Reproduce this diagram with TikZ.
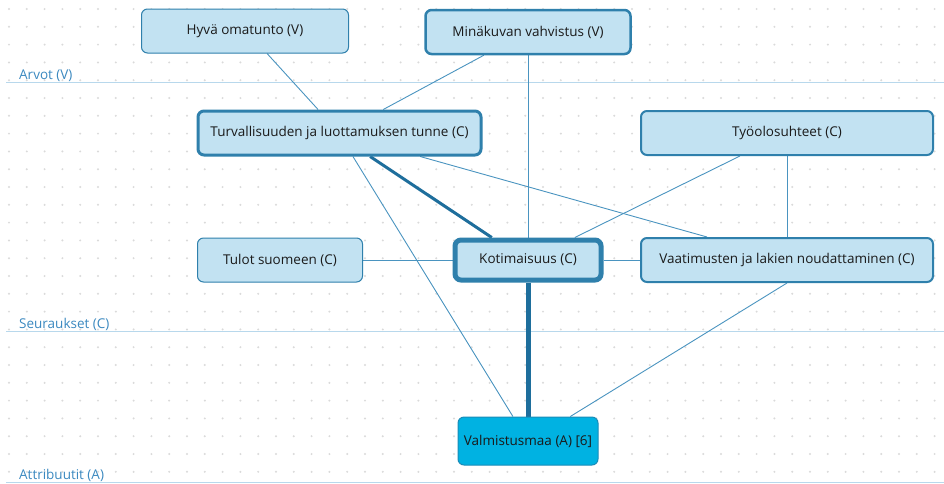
\documentclass[tikz,border=0pt]{standalone}
\usepackage{fontspec}
\setmainfont{Open Sans}
\usetikzlibrary{calc,backgrounds}
\definecolor{boxfill}{HTML}{C2E2F2}
\definecolor{boxline}{HTML}{2F80AC}
\definecolor{boxdark}{HTML}{1E6E9C}
\definecolor{attrfill}{HTML}{00B2E2}
\definecolor{attrline}{HTML}{1A8CB8}
\definecolor{edgecol}{HTML}{4A94C0}
\definecolor{bandline}{HTML}{B8D8EC}
\definecolor{bandtext}{HTML}{3B89C0}
\definecolor{dotcol}{HTML}{DADADA}
\definecolor{txt}{HTML}{1A1A1A}
\tikzset{
  box/.style={draw=boxline, fill=boxfill, rounded corners=6pt, minimum height=44pt,
    text=txt, font=\fontsize{13.5}{16}\selectfont, inner sep=0pt},
  attr/.style={draw=attrline, fill=attrfill, rounded corners=6pt, minimum height=48pt,
    text=txt, font=\fontsize{13.5}{16}\selectfont, inner sep=0pt, line width=1pt},
  edge/.style={draw=edgecol, line width=0.9pt},
  strong/.style={draw=boxdark, line width=3pt},
  strongest/.style={draw=boxdark, line width=5pt},
  bandlabel/.style={anchor=west, text=bandtext, font=\fontsize{13.5}{16}\selectfont, inner sep=0pt},
}
\begin{document}
\begin{tikzpicture}[x=1pt,y=-1pt]
\useasboundingbox (0,0) rectangle (944,483);
\begin{pgfonlayer}{background}
\fill[white] (0,0) rectangle (944,483);
\foreach \i in {0,...,52} {
  \foreach \j in {0,...,26} {
    \fill[dotcol] (9+\i*17.8, 9+\j*17.8) circle (1.1pt);
  }
}
\draw[bandline, line width=1pt] (6,82) -- (944,82);
\draw[bandline, line width=1pt] (6,331.5) -- (944,331.5);
\draw[bandline, line width=1pt] (6,482) -- (944,482);
\end{pgfonlayer}
\node[bandlabel] (lv) at (19,76) {Arvot (V)};
\node[bandlabel] (lc) at (19,324) {Seuraukset (C)};
\node[bandlabel] (la) at (19,475) {Attribuutit (A)};

\node[box, line width=1pt, minimum width=207pt] (hyva) at (245,31) {Hyvä omatunto (V)};
\node[box, line width=2.5pt, minimum width=205pt] (mina) at (528,32) {Minäkuvan vahvistus (V)};
\node[box, line width=3pt, minimum width=283pt] (turv) at (339.5,133) {Turvallisuuden ja luottamuksen tunne (C)};
\node[box, line width=2pt, minimum width=292pt] (tyo) at (787,133) {Työolosuhteet (C)};
\node[box, line width=1pt, minimum width=165pt] (tulot) at (280,260) {Tulot suomeen (C)};
\node[box, line width=5pt, minimum width=146pt, minimum height=40pt] (koti) at (528,260) {Kotimaisuus (C)};
\node[box, line width=2pt, minimum width=292pt] (vaat) at (787,260) {Vaatimusten ja lakien noudattaminen (C)};
\node[attr, minimum width=140pt] (valm) at (528,441) {Valmistusmaa (A) [6]};

\begin{pgfonlayer}{background}
\draw[edge] ($(hyva.south west)!0.606!(hyva.south east)$) -- ($(turv.north west)!0.425!(turv.north east)$);
\draw[edge] ($(mina.south west)!0.287!(mina.south east)$) -- ($(turv.north west)!0.653!(turv.north east)$);
\draw[edge] (mina.south) -- (koti.north);
\draw[strong] ($(turv.south west)!0.607!(turv.south east)$) -- ($(koti.north west)!0.26!(koti.north east)$);
\draw[edge] ($(turv.south west)!0.547!(turv.south east)$) -- ($(valm.north west)!0.393!(valm.north east)$);
\draw[edge] ($(turv.south west)!0.782!(turv.south east)$) -- ($(vaat.north west)!0.228!(vaat.north east)$);
\draw[edge] ($(tyo.south west)!0.34!(tyo.south east)$) -- ($(koti.north west)!0.81!(koti.north east)$);
\draw[edge] (tyo.south) -- (vaat.north);
\draw[edge] (tulot.east) -- (koti.west);
\draw[edge] (koti.east) -- (vaat.west);
\draw[strongest] (koti.south) -- (valm.north);
\draw[edge] (vaat.south) -- ($(valm.north west)!0.8!(valm.north east)$);
\end{pgfonlayer}
\end{tikzpicture}
\end{document}
